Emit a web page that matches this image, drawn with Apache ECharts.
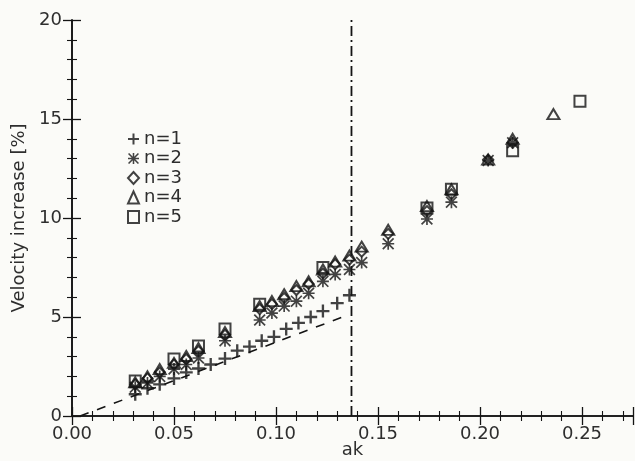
<!DOCTYPE html>
<html lang="en">
<head>
  <meta charset="UTF-8">
  <title>Velocity increase</title>
  <style>
    body{
      margin: 0;
    }
    .chart{
      width: 635px;
      height: 461px;
      background: #fbfbf8;
    }
  </style>
</head>
<body>
<div class="chart"></div>
<script src="https://cdn.jsdelivr.net/npm/echarts@6/dist/echarts.min.js"></script>
<script>
  // n=1 (plus)
  const akN1 = [0.031, 0.037, 0.043, 0.050, 0.056, 0.062, 0.068, 0.075, 0.081, 0.087, 0.093, 0.099, 0.105, 0.111, 0.117, 0.123, 0.130, 0.136];
  const velN1 = [1.1, 1.4, 1.6, 1.9, 2.2, 2.4, 2.6, 2.9, 3.3, 3.5, 3.8, 4.0, 4.4, 4.7, 5.0, 5.3, 5.7, 6.1];
  // n=2 (asterisk)
  const akN2 = [0.031, 0.037, 0.043, 0.050, 0.056, 0.062, 0.075, 0.092, 0.098, 0.104, 0.110, 0.116, 0.123, 0.129, 0.136, 0.142, 0.155, 0.174, 0.186, 0.204, 0.216];
  const velN2 = [1.45, 1.67, 2.0, 2.37, 2.6, 2.93, 3.8, 4.85, 5.2, 5.55, 5.8, 6.2, 6.8, 7.15, 7.4, 7.75, 8.7, 9.95, 10.8, 12.9, 13.8];
  // n=3 (diamond)
  const akN3 = [0.031, 0.037, 0.043, 0.050, 0.056, 0.062, 0.075, 0.092, 0.098, 0.104, 0.110, 0.116, 0.123, 0.129, 0.136, 0.142, 0.155, 0.174, 0.186, 0.204, 0.216];
  const velN3 = [1.6, 1.9, 2.2, 2.6, 2.88, 3.28, 4.1, 5.4, 5.65, 5.96, 6.36, 6.67, 7.2, 7.66, 7.9, 8.3, 9.2, 10.35, 11.2, 12.95, 13.8];
  // n=4 (triangle)
  const akN4 = [0.031, 0.037, 0.043, 0.050, 0.056, 0.062, 0.075, 0.092, 0.098, 0.104, 0.110, 0.116, 0.123, 0.129, 0.136, 0.142, 0.155, 0.174, 0.186, 0.204, 0.216, 0.236];
  const velN4 = [1.7, 2.0, 2.37, 2.68, 3.03, 3.43, 4.24, 5.55, 5.8, 6.15, 6.56, 6.8, 7.4, 7.8, 8.1, 8.55, 9.4, 10.6, 11.45, 12.95, 14.0, 15.25];
  // n=5 (square)
  const akN5 = [0.031, 0.050, 0.062, 0.075, 0.092, 0.123, 0.174, 0.186, 0.216, 0.249];
  const velN5 = [1.77, 2.88, 3.54, 4.4, 5.65, 7.5, 10.5, 11.45, 13.4, 15.9];

  // dashed reference line and the dash-dot limit
  const akLine = [0.004, 0.134];
  const velLine = [0, 5.05];
  const akLimit = 0.137;

  const seriesNames = ['n=1', 'n=2', 'n=3', 'n=4', 'n=5'];
  const xTicks = {min: 0, max: 0.275, interval: 0.05};
  const yTicks = {min: 0, max: 20, interval: 5};

  const ink = '#141414';
  const textInk = '#2e2e2e';
  const font = 'DejaVu Sans';

  const plusPath = 'path://M4.1,0h1.8v10h-1.8z M0,4.1h10v1.8h-10z';
  const starPath = 'path://M4.3,0h1.4v10h-1.4z M0,4.3h10v1.4h-10z M1,0L10,9L9,10L0,1z M9,0L10,1L1,10L0,9z';

  const zip = (xs, ys) => xs.map((x, i) => [x, ys[i]]);

  const hollow = {color: 'rgba(0,0,0,0)', borderColor: ink, borderWidth: 2};
  const solid = {color: ink};

  const axisCommon = {
    type: 'value',
    axisLine: {show: true, lineStyle: {color: ink, width: 1.6}},
    axisTick: {show: true, inside: true, length: 9, lineStyle: {color: ink, width: 1.3}},
    minorTick: {show: true, splitNumber: 5, length: 5, lineStyle: {color: ink, width: 1.1}},
    splitLine: {show: false},
    axisLabel: {color: textInk, fontFamily: font, fontSize: 18}
  };

  const container = document.querySelector('.chart');
  const instance = echarts.init(container);
  const option = {
    animation: false,
    backgroundColor: '#fbfbf8',
    grid: {left: 72, right: 2, top: 20, bottom: 45, outerBoundsMode: 'none', containLabel: false},
    legend: {
      data: seriesNames,
      orient: 'vertical',
      left: 122,
      top: 125,
      itemWidth: 11,
      itemHeight: 12,
      itemGap: 1.5,
      textStyle: {color: textInk, fontFamily: font, fontSize: 18}
    },
    xAxis: [
      Object.assign({}, axisCommon, xTicks, {
        position: 'bottom',
        name: 'ak',
        nameLocation: 'middle',
        nameGap: 25,
        nameMoveOverlap: false,
        nameTextStyle: {color: textInk, fontFamily: font, fontSize: 18},
        axisLabel: Object.assign({}, axisCommon.axisLabel, {
          margin: 9,
          showMaxLabel: false,
          formatter: v => v.toFixed(2)
        })
      }),
      Object.assign({}, axisCommon, xTicks, {
        position: 'top',
        axisLabel: {show: false}
      })
    ],
    yAxis: [
      Object.assign({}, axisCommon, yTicks, {
        position: 'left',
        name: 'Velocity increase [%]',
        nameLocation: 'middle',
        nameGap: 44,
        nameMoveOverlap: false,
        nameTextStyle: {color: textInk, fontFamily: font, fontSize: 18},
        axisLabel: Object.assign({}, axisCommon.axisLabel, {margin: 10})
      }),
      Object.assign({}, axisCommon, yTicks, {
        position: 'right',
        axisLabel: {show: false}
      })
    ],
    series: [
      {
        name: 'n=1', type: 'scatter',
        symbol: plusPath, symbolSize: 13,
        itemStyle: solid,
        data: zip(akN1, velN1)
      },
      {
        name: 'n=2', type: 'scatter',
        symbol: starPath, symbolSize: 12,
        itemStyle: solid,
        data: zip(akN2, velN2)
      },
      {
        name: 'n=3', type: 'scatter',
        symbol: 'diamond', symbolSize: [10, 10],
        itemStyle: hollow,
        data: zip(akN3, velN3)
      },
      {
        name: 'n=4', type: 'scatter',
        symbol: 'triangle', symbolSize: [12, 10],
        itemStyle: hollow,
        data: zip(akN4, velN4)
      },
      {
        name: 'n=5', type: 'scatter',
        symbol: 'rect', symbolSize: [11, 11],
        itemStyle: hollow,
        data: zip(akN5, velN5)
      },
      {
        type: 'line',
        symbol: 'none',
        silent: true,
        lineStyle: {color: ink, width: 1.6, type: [9, 9]},
        data: zip(akLine, velLine)
      },
      {
        type: 'line',
        symbol: 'none',
        silent: true,
        lineStyle: {color: ink, width: 1.8, type: [10, 4, 2, 4]},
        data: [[akLimit, yTicks.min], [akLimit, yTicks.max]]
      }
    ]
  };
  instance.setOption(option);
</script>
</body>
</html>
